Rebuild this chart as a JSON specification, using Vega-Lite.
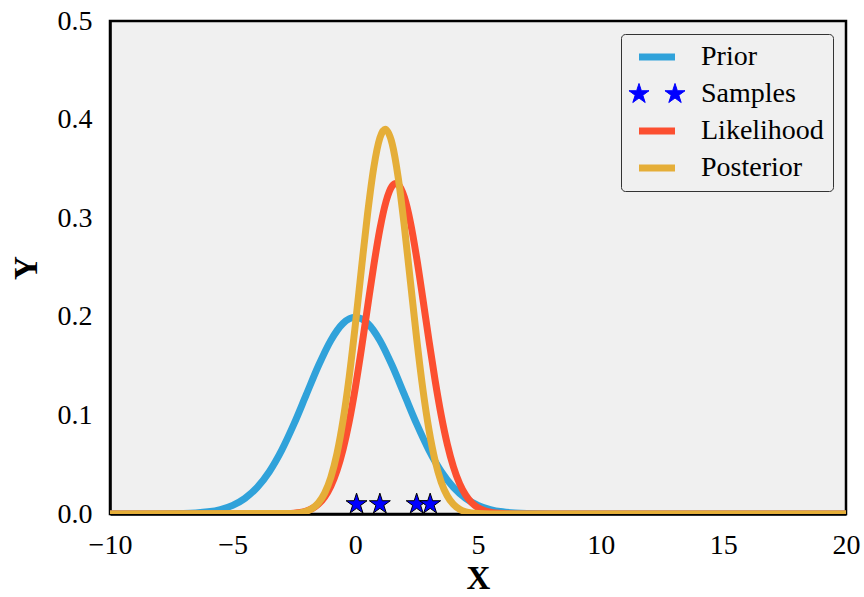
{
  "$schema": "https://vega.github.io/schema/vega-lite/v6.json",
  "width": 736,
  "height": 493,
  "autosize": {"type": "none"},
  "padding": {"left": 110, "top": 21, "right": 18, "bottom": 83},
  "background": "white",
  "config": {
    "font": "Liberation Serif",
    "view": {"fill": "#f0f0f0", "stroke": "black", "strokeWidth": 2.5},
    "axis": {"grid": false, "ticks": false, "domainColor": "black", "domainWidth": 2.5, "labelColor": "black", "titleColor": "black", "labelFont": "Liberation Serif", "titleFont": "Liberation Serif", "labelFontSize": 28, "titleFontSize": 33, "titleFontWeight": "bold", "zindex": 1}
  },
  "datasets": {
    "curves": [
      {"series": "Prior", "x": -10, "y": 0},
      {"series": "Prior", "x": -8, "y": 0.00007},
      {"series": "Prior", "x": -7, "y": 0.00044},
      {"series": "Prior", "x": -6.5, "y": 0.00101},
      {"series": "Prior", "x": -6, "y": 0.00222},
      {"series": "Prior", "x": -5.5, "y": 0.00455},
      {"series": "Prior", "x": -5, "y": 0.00876},
      {"series": "Prior", "x": -4.5, "y": 0.01587},
      {"series": "Prior", "x": -4, "y": 0.027},
      {"series": "Prior", "x": -3.5, "y": 0.04314},
      {"series": "Prior", "x": -3, "y": 0.06476},
      {"series": "Prior", "x": -2.5, "y": 0.09132},
      {"series": "Prior", "x": -2, "y": 0.12099},
      {"series": "Prior", "x": -1.5, "y": 0.15057},
      {"series": "Prior", "x": -1, "y": 0.17603},
      {"series": "Prior", "x": -0.5, "y": 0.19333},
      {"series": "Prior", "x": 0, "y": 0.19947},
      {"series": "Prior", "x": 0.5, "y": 0.19333},
      {"series": "Prior", "x": 1, "y": 0.17603},
      {"series": "Prior", "x": 1.5, "y": 0.15057},
      {"series": "Prior", "x": 2, "y": 0.12099},
      {"series": "Prior", "x": 2.5, "y": 0.09132},
      {"series": "Prior", "x": 3, "y": 0.06476},
      {"series": "Prior", "x": 3.5, "y": 0.04314},
      {"series": "Prior", "x": 4, "y": 0.027},
      {"series": "Prior", "x": 4.5, "y": 0.01587},
      {"series": "Prior", "x": 5, "y": 0.00876},
      {"series": "Prior", "x": 5.5, "y": 0.00455},
      {"series": "Prior", "x": 6, "y": 0.00222},
      {"series": "Prior", "x": 6.5, "y": 0.00101},
      {"series": "Prior", "x": 7, "y": 0.00044},
      {"series": "Prior", "x": 8, "y": 0.00007},
      {"series": "Prior", "x": 20, "y": 0},
      {"series": "Likelihood", "x": -10, "y": 0},
      {"series": "Likelihood", "x": -3, "y": 0.00016},
      {"series": "Likelihood", "x": -2.5, "y": 0.00077},
      {"series": "Likelihood", "x": -2.25, "y": 0.00156},
      {"series": "Likelihood", "x": -2, "y": 0.00304},
      {"series": "Likelihood", "x": -1.75, "y": 0.00566},
      {"series": "Likelihood", "x": -1.5, "y": 0.01009},
      {"series": "Likelihood", "x": -1.25, "y": 0.01721},
      {"series": "Likelihood", "x": -1, "y": 0.02809},
      {"series": "Likelihood", "x": -0.75, "y": 0.04386},
      {"series": "Likelihood", "x": -0.5, "y": 0.06554},
      {"series": "Likelihood", "x": -0.25, "y": 0.09371},
      {"series": "Likelihood", "x": 0, "y": 0.1282},
      {"series": "Likelihood", "x": 0.25, "y": 0.16781},
      {"series": "Likelihood", "x": 0.5, "y": 0.21018},
      {"series": "Likelihood", "x": 0.75, "y": 0.25188},
      {"series": "Likelihood", "x": 1, "y": 0.28879},
      {"series": "Likelihood", "x": 1.25, "y": 0.31684},
      {"series": "Likelihood", "x": 1.5, "y": 0.3326},
      {"series": "Likelihood", "x": 1.65, "y": 0.33525},
      {"series": "Likelihood", "x": 1.75, "y": 0.33407},
      {"series": "Likelihood", "x": 2, "y": 0.32106},
      {"series": "Likelihood", "x": 2.25, "y": 0.29524},
      {"series": "Likelihood", "x": 2.5, "y": 0.25976},
      {"series": "Likelihood", "x": 2.75, "y": 0.21869},
      {"series": "Likelihood", "x": 3, "y": 0.17615},
      {"series": "Likelihood", "x": 3.25, "y": 0.13578},
      {"series": "Likelihood", "x": 3.5, "y": 0.10013},
      {"series": "Likelihood", "x": 3.75, "y": 0.07065},
      {"series": "Likelihood", "x": 4, "y": 0.0477},
      {"series": "Likelihood", "x": 4.25, "y": 0.03081},
      {"series": "Likelihood", "x": 4.5, "y": 0.01905},
      {"series": "Likelihood", "x": 4.75, "y": 0.01126},
      {"series": "Likelihood", "x": 5, "y": 0.00638},
      {"series": "Likelihood", "x": 5.25, "y": 0.00345},
      {"series": "Likelihood", "x": 5.5, "y": 0.00179},
      {"series": "Likelihood", "x": 6, "y": 0.00042},
      {"series": "Likelihood", "x": 6.5, "y": 0.00008},
      {"series": "Likelihood", "x": 20, "y": 0},
      {"series": "Posterior", "x": -10, "y": 0},
      {"series": "Posterior", "x": -2.5, "y": 0.00052},
      {"series": "Posterior", "x": -2, "y": 0.00276},
      {"series": "Posterior", "x": -1.75, "y": 0.00577},
      {"series": "Posterior", "x": -1.5, "y": 0.01139},
      {"series": "Posterior", "x": -1.25, "y": 0.02118},
      {"series": "Posterior", "x": -1, "y": 0.03708},
      {"series": "Posterior", "x": -0.75, "y": 0.06115},
      {"series": "Posterior", "x": -0.5, "y": 0.09504},
      {"series": "Posterior", "x": -0.25, "y": 0.1391},
      {"series": "Posterior", "x": 0, "y": 0.19179},
      {"series": "Posterior", "x": 0.25, "y": 0.24911},
      {"series": "Posterior", "x": 0.5, "y": 0.30477},
      {"series": "Posterior", "x": 0.75, "y": 0.35122},
      {"series": "Posterior", "x": 1, "y": 0.38129},
      {"series": "Posterior", "x": 1.2186, "y": 0.3901},
      {"series": "Posterior", "x": 1.5, "y": 0.37561},
      {"series": "Posterior", "x": 1.75, "y": 0.34083},
      {"series": "Posterior", "x": 2, "y": 0.29133},
      {"series": "Posterior", "x": 2.25, "y": 0.23458},
      {"series": "Posterior", "x": 2.5, "y": 0.17793},
      {"series": "Posterior", "x": 2.75, "y": 0.12713},
      {"series": "Posterior", "x": 3, "y": 0.08556},
      {"series": "Posterior", "x": 3.25, "y": 0.05424},
      {"series": "Posterior", "x": 3.5, "y": 0.03239},
      {"series": "Posterior", "x": 3.75, "y": 0.01823},
      {"series": "Posterior", "x": 4, "y": 0.00966},
      {"series": "Posterior", "x": 4.25, "y": 0.00482},
      {"series": "Posterior", "x": 4.5, "y": 0.00227},
      {"series": "Posterior", "x": 5, "y": 0.00042},
      {"series": "Posterior", "x": 5.5, "y": 0.00006},
      {"series": "Posterior", "x": 20, "y": 0}
    ],
    "samples": [
      {"series": "Samples", "x": 0.05, "y": 0.01},
      {"series": "Samples", "x": 1.0, "y": 0.01},
      {"series": "Samples", "x": 2.5, "y": 0.01},
      {"series": "Samples", "x": 3.05, "y": 0.01}
    ]
  },
  "encoding": {
    "x": {"field": "x", "type": "quantitative", "title": "X",
      "scale": {"domain": [-10, 20], "nice": false, "zero": false},
      "axis": {"values": [-10, -5, 0, 5, 10, 15, 20], "labelPadding": 17, "titlePadding": 3, "labelFlush": false}},
    "y": {"field": "y", "type": "quantitative", "title": "Y",
      "scale": {"domain": [0, 0.5], "nice": false},
      "axis": {"values": [0, 0.1, 0.2, 0.3, 0.4, 0.5], "format": ".1f", "labelPadding": 18, "titlePadding": 14, "labelFlush": false}},
    "color": {"field": "series", "type": "nominal",
      "scale": {"domain": ["Prior", "Samples", "Likelihood", "Posterior"], "range": ["#30a2da", "#0000ff", "#fc4f30", "#e5ae38"]},
      "legend": {
        "title": null, "orient": "top-right", "offset": 13,
        "fillColor": "#f0f0f0", "strokeColor": "#333333", "cornerRadius": 4, "padding": 9,
        "symbolSize": 324, "symbolOffset": 13, "labelOffset": 30, "rowPadding": 9,
        "labelFontSize": 28, "labelFont": "Liberation Serif", "labelColor": "black",
        "encode": {"symbols": {"update": {
          "shape": {"signal": "datum.value === 'Samples' ? 'M-2,-1.17L-1.737,-0.362L-0.887,-0.362L-1.575,0.138L-1.312,0.947L-2,0.447L-2.688,0.947L-2.425,0.138L-3.113,-0.362L-2.263,-0.362ZM2,-1.17L2.263,-0.362L3.113,-0.362L2.425,0.138L2.688,0.947L2,0.447L1.312,0.947L1.575,0.138L0.887,-0.362L1.737,-0.362Z' : 'M-2,0L2,0'"},
          "fill": {"signal": "datum.value === 'Samples' ? '#0000ff' : 'transparent'"},
          "stroke": {"signal": "datum.value === 'Samples' ? 'black' : scale('color', datum.value)"},
          "strokeWidth": {"signal": "datum.value === 'Samples' ? 1 : 7"},
          "opacity": {"value": 1}
        }}}
      }}
  },
  "layer": [
    {"data": {"name": "curves"}, "transform": [{"filter": "datum.series === 'Prior'"}],
     "mark": {"type": "line", "strokeWidth": 7, "clip": true, "interpolate": "monotone"}},
    {"data": {"name": "curves"}, "transform": [{"filter": "datum.series === 'Likelihood'"}],
     "mark": {"type": "line", "strokeWidth": 7, "clip": true, "interpolate": "monotone"}},
    {"data": {"name": "curves"}, "transform": [{"filter": "datum.series === 'Posterior'"}],
     "mark": {"type": "line", "strokeWidth": 7, "clip": true, "interpolate": "monotone"}},
    {"data": {"name": "samples"},
     "mark": {"type": "point", "filled": true, "opacity": 1, "size": 484, "stroke": "black", "strokeWidth": 1,
       "shape": "M0,-1L0.2245,-0.309L0.951,-0.309L0.363,0.118L0.588,0.809L0,0.382L-0.588,0.809L-0.363,0.118L-0.951,-0.309L-0.2245,-0.309Z"},
     "encoding": {"fill": {"value": "#0000ff"}}}
  ]
}
